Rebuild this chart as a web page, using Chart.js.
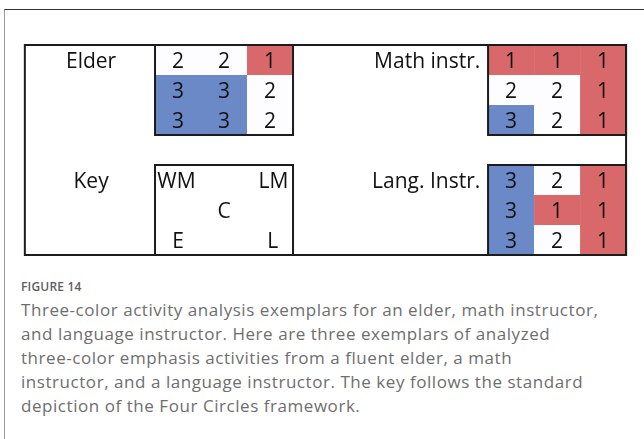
<!DOCTYPE html>
<html>
<head>
<meta charset="utf-8">
<script src="https://cdn.jsdelivr.net/npm/chart.js@4/dist/chart.umd.min.js"></script>
<style>
    html, body { margin: 0; padding: 0; background: #fff; }
    body { width: 644px; height: 439px; position: relative; overflow: hidden; }
    .frame {
        position: absolute; left: 4px; top: 9px; right: -10px; bottom: -10px;
        border-top: 1.5px solid #333; border-left: 1.5px solid #9a9a9a;
    }
    #chartWrap { position: absolute; left: 0; top: 0; width: 644px; height: 270px; }
    .caption {
        position: absolute; left: 21px; top: 278px;
        font-family: "Open Sans", Lato, sans-serif; color: #6e6e6e; white-space: nowrap;
    }
    .caption .fig { font-size: 12px; font-weight: 600; color: #5e5e5e; letter-spacing: 0.2px; margin-bottom: 3px; }
    .caption .text { font-size: 17px; line-height: 24px; letter-spacing: 0.55px; }
</style>
</head>
<body>
<div class="frame"></div>
<div id="chartWrap"><canvas id="figChart" width="644" height="270"></canvas></div>
<div class="caption">
    <div class="fig">FIGURE 14</div>
    <div class="text">Three-color activity analysis exemplars for an elder, math instructor,<br>and language instructor. Here are three exemplars of analyzed<br>three-color emphasis activities from a fluent elder, a math<br>instructor, and a language instructor. The key follows the standard<br>depiction of the Four Circles framework.</div>
</div>
<script>
// Emphasis values (rows top to bottom, columns left to right)
const elderValues = [
    [2, 2, 1],
    [3, 3, 2],
    [3, 3, 2]
];
const mathValues = [
    [1, 1, 1],
    [2, 2, 1],
    [3, 2, 1]
];
const langValues = [
    [3, 2, 1],
    [3, 1, 1],
    [3, 2, 1]
];
const panelNames = ['Elder', 'Math instr.', 'Lang. Instr.'];
const keyName = 'Key';
const keyLabels = ['WM', 'LM', 'C', 'E', 'L'];

// Colour per emphasis value
const valueColors = { 1: 'rgb(217,104,106)', 2: 'rgb(253,253,255)', 3: 'rgb(106,137,198)' };

// Layout in grid units (x: 1 unit = one cell width, y: 1 unit = one cell height)
const layout = {
    box: { x0: 0.54, x1: 13.61, y0: 1.5, y1: 8.5 },
    elder: { x: 3.37, y: 1.5 },
    math: { x: 10.61, y: 1.5 },
    lang: { x: 10.61, y: 5.5 },
    key: { x: 3.37, y: 5.5 },
    labelCenter: 1.98,
    labelRight: 10.44
};
const cellFont = '21px "Open Sans", Lato, sans-serif';
const lineColor = '#1c1c1c';
const textShift = 2;

// Build one scatter dataset of cell centres per panel
function panelData(values, origin) {
    const points = [];
    values.forEach((row, r) => {
        row.forEach((v, c) => {
            points.push({ x: origin.x + c + 0.5, y: origin.y + r + 0.5, v: v });
        });
    });
    return points;
}

const panels = [
    { name: panelNames[0], values: elderValues, origin: layout.elder, labelAlign: 'center' },
    { name: panelNames[1], values: mathValues, origin: layout.math, labelAlign: 'right' },
    { name: panelNames[2], values: langValues, origin: layout.lang, labelAlign: 'right' }
];

// Plugin drawing the cells, numbers, box outlines and labels through the scales
const cellPlugin = {
    id: 'cellPlugin',
    afterDatasetsDraw(chart) {
        const ctx = chart.ctx;
        const xs = chart.scales.x;
        const ys = chart.scales.y;
        const px = v => xs.getPixelForValue(v);
        const py = v => ys.getPixelForValue(v);

        ctx.save();
        // cells
        chart.data.datasets.forEach(ds => {
            ds.data.forEach(p => {
                const l = px(p.x - 0.5), r = px(p.x + 0.5);
                const t = py(p.y - 0.5), b = py(p.y + 0.5);
                ctx.fillStyle = valueColors[p.v];
                ctx.fillRect(l, t, r - l, b - t);
            });
        });
        // numbers
        ctx.font = cellFont;
        ctx.fillStyle = '#111';
        ctx.textAlign = 'center';
        ctx.textBaseline = 'middle';
        chart.data.datasets.forEach(ds => {
            ds.data.forEach(p => {
                ctx.fillText(String(p.v), px(p.x), py(p.y) + textShift);
            });
        });

        // outlines
        ctx.strokeStyle = lineColor;
        ctx.lineWidth = 2;
        const box = layout.box;
        ctx.strokeRect(px(box.x0), py(box.y0), px(box.x1) - px(box.x0), py(box.y1) - py(box.y0));
        panels.forEach(pn => {
            const o = pn.origin;
            ctx.strokeRect(px(o.x), py(o.y), px(o.x + 3) - px(o.x), py(o.y + 3) - py(o.y));
        });
        const k = layout.key;
        ctx.strokeRect(px(k.x), py(k.y), px(k.x + 3) - px(k.x), py(k.y + 3) - py(k.y));

        // panel labels
        ctx.fillStyle = '#111';
        panels.forEach(pn => {
            ctx.textAlign = pn.labelAlign;
            const lx = pn.labelAlign === 'center' ? layout.labelCenter : layout.labelRight;
            ctx.fillText(pn.name, px(lx), py(pn.origin.y + 0.5) + textShift);
        });
        ctx.textAlign = 'center';
        ctx.fillText(keyName, px(layout.labelCenter), py(k.y + 0.5) + textShift);

        // key labels (Four Circles positions)
        ctx.textAlign = 'left';
        ctx.fillText(keyLabels[0], px(k.x + 0.05), py(k.y + 0.5) + textShift);
        ctx.textAlign = 'right';
        ctx.fillText(keyLabels[1], px(k.x + 2.9), py(k.y + 0.5) + textShift);
        ctx.textAlign = 'center';
        ctx.fillText(keyLabels[2], px(k.x + 1.5), py(k.y + 1.5) + textShift);
        ctx.fillText(keyLabels[3], px(k.x + 0.5), py(k.y + 2.5) + textShift);
        ctx.fillText(keyLabels[4], px(k.x + 2.56), py(k.y + 2.5) + textShift);
        ctx.restore();
    }
};

const figChart = new Chart(document.getElementById('figChart').getContext('2d'), {
    type: 'scatter',
    data: {
        datasets: panels.map(pn => ({
            label: pn.name,
            data: panelData(pn.values, pn.origin),
            pointRadius: 0,
            pointHoverRadius: 0
        }))
    },
    options: {
        responsive: false,
        animation: false,
        events: [],
        layout: { padding: 0 },
        plugins: { legend: { display: false }, tooltip: { enabled: false } },
        scales: {
            x: { type: 'linear', min: 0, max: 14, display: false },
            y: { type: 'linear', min: 0, max: 9, reverse: true, display: false }
        }
    },
    plugins: [cellPlugin]
});
</script>
</body>
</html>
